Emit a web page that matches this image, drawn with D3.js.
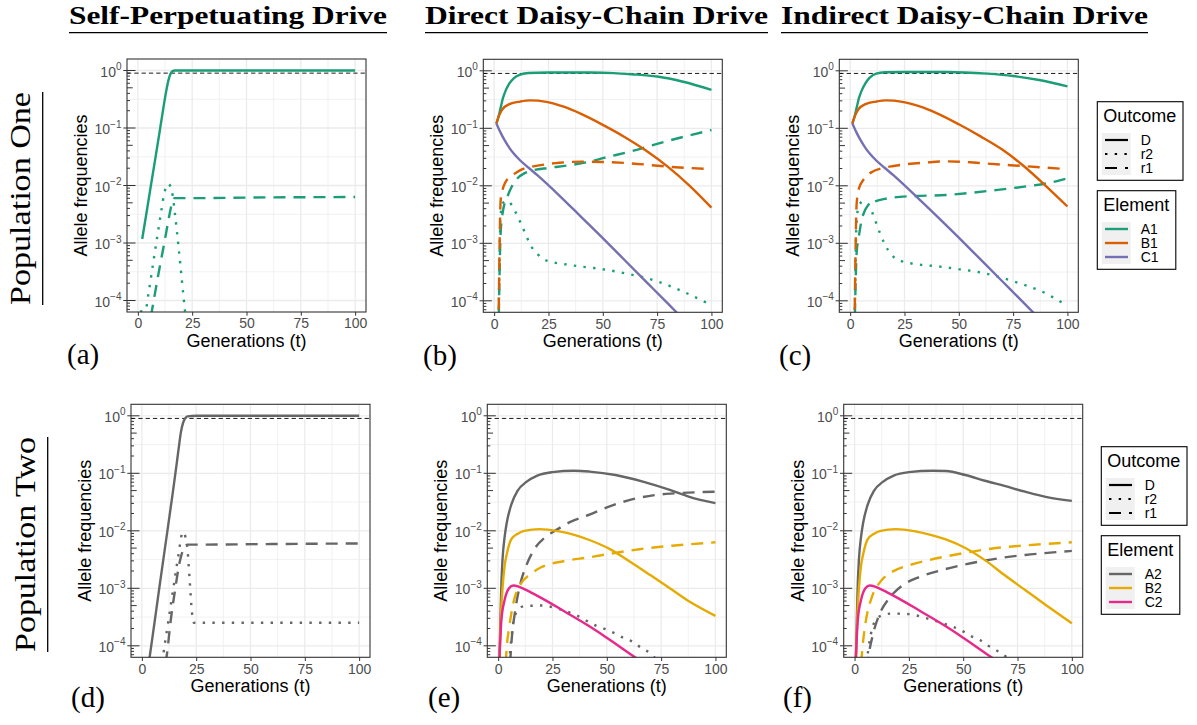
<!DOCTYPE html>
<html>
<head>
<meta charset="utf-8">
<script src="https://cdn.jsdelivr.net/npm/d3@7"></script>
<style>
  body { margin: 0; background: #fff; }
  svg { display: block; }
</style>
</head>
<body>
<div id="chart"></div>
<script>
// every series: [generation, log10(allele frequency)]

// (a) self-perpetuating, population one
const selfOneA1D = [[2,-2.93],[4,-2.47],[6,-2.0],[8,-1.54],[10,-1.07],[12,-0.59],[13,-0.37],[14,-0.18],[15,-0.06],[16,-0.01],[17,0],[25,0],[50,0],[75,0],[100,0]];
const selfOneA1r2 = [[1,-4.19],[3.5,-4.17],[5,-3.85],[7,-3.36],[9,-2.87],[11,-2.39],[12,-2.16],[13,-2.03],[14,-1.97],[15,-2.02],[16,-2.17],[17,-2.47],[19,-3.17],[21,-3.93],[22,-4.3]];
const selfOneA1r1 = [[6,-4.28],[8,-3.85],[10,-3.43],[12,-3.03],[14,-2.62],[15,-2.42],[16,-2.27],[17,-2.22],[25,-2.22],[50,-2.21],[100,-2.2]];

// (b) direct daisy-chain, population one
const dirOneA1D = [[1,-0.92],[2,-0.8],[3,-0.64],[4,-0.48],[5,-0.37],[7,-0.22],[9,-0.13],[12,-0.065],[16,-0.037],[25,-0.03],[44,-0.03],[55,-0.04],[63,-0.06],[75,-0.1],[87,-0.19],[100,-0.33]];
const dirOneB1D = [[1,-0.92],[2,-0.8],[3,-0.72],[4,-0.66],[7,-0.58],[12,-0.535],[16.5,-0.515],[24,-0.54],[32,-0.625],[40,-0.75],[50,-0.94],[60,-1.15],[70,-1.39],[80,-1.67],[90,-2.0],[100,-2.38]];
const dirOneC1D = [[1,-0.915],[2,-1.0],[3,-1.08],[5,-1.22],[7,-1.34],[9,-1.44],[12,-1.56],[16,-1.69],[20,-1.82],[30,-2.17],[40,-2.54],[50,-2.91],[60,-3.29],[70,-3.67],[80,-4.05],[86,-4.28]];
const dirOneA1r2 = [[2,-4.5],[3,-2.5],[4,-2.3],[6,-2.26],[8,-2.33],[10,-2.47],[12,-2.63],[14,-2.8],[17,-3.05],[20,-3.19],[23,-3.28],[27,-3.33],[32,-3.36],[41,-3.41],[46,-3.43],[60,-3.52],[75,-3.66],[87,-3.84],[98,-4.04],[100,-4.08]];
const dirOneA1r1 = [[2,-4.6],[3,-2.8],[4,-2.45],[6,-2.2],[8,-2.02],[11,-1.86],[14,-1.78],[18,-1.73],[25,-1.69],[35,-1.64],[45,-1.57],[50,-1.52],[63,-1.4],[75,-1.27],[87,-1.15],[100,-1.03]];
const dirOneB1r1 = [[2,-4.5],[3,-2.25],[4,-2.05],[5,-1.95],[7,-1.85],[9,-1.8],[13,-1.71],[20,-1.65],[30,-1.6],[40,-1.58],[50,-1.585],[63,-1.61],[81,-1.67],[100,-1.71]];

// (c) indirect daisy-chain, population one
const indOneA1D = [[1,-0.92],[2,-0.8],[3,-0.64],[4,-0.48],[5,-0.37],[7,-0.22],[9,-0.12],[12,-0.05],[16,-0.025],[25,-0.02],[44,-0.02],[63,-0.05],[75,-0.09],[87,-0.16],[100,-0.27]];
const indOneB1D = [[1,-0.92],[2,-0.8],[3,-0.72],[4,-0.66],[7,-0.58],[12,-0.535],[16.5,-0.515],[24,-0.54],[32,-0.62],[40,-0.74],[50,-0.93],[60,-1.14],[70,-1.37],[80,-1.66],[90,-2.0],[100,-2.36]];
const indOneC1D = [[1,-0.915],[2,-1.0],[3,-1.08],[5,-1.22],[7,-1.34],[9,-1.44],[12,-1.56],[16,-1.69],[20,-1.82],[30,-2.17],[40,-2.53],[50,-2.9],[60,-3.28],[70,-3.66],[80,-4.04],[86,-4.27]];
const indOneA1r2 = [[2,-4.5],[3,-2.6],[4,-2.35],[6,-2.27],[8,-2.3],[10,-2.45],[12,-2.65],[14,-2.85],[16,-3.02],[19,-3.2],[23,-3.3],[30,-3.36],[40,-3.4],[50,-3.45],[59,-3.5],[75,-3.66],[90,-3.87],[98,-4.04],[100,-4.08]];
const indOneA1r1 = [[2,-4.6],[3,-3.15],[4,-2.88],[5,-2.65],[6,-2.5],[8,-2.35],[11,-2.28],[17,-2.22],[28,-2.18],[44,-2.16],[56,-2.12],[68,-2.07],[81,-2.01],[90,-1.96],[100,-1.87]];
const indOneB1r1 = [[2,-4.5],[3,-2.3],[4,-2.05],[6,-1.9],[10,-1.76],[15,-1.69],[20,-1.655],[35,-1.595],[44,-1.575],[55,-1.59],[62,-1.61],[81,-1.66],[100,-1.71]];

// (d) self-perpetuating, population two
const selfTwoA2D = [[3,-4.35],[5,-3.82],[8,-3.0],[11,-2.2],[14,-1.4],[16,-0.84],[17,-0.55],[18,-0.28],[19,-0.12],[20,-0.04],[21,-0.01],[25,0],[50,0],[100,0]];
const selfTwoA2r2 = [[9,-4.45],[10,-4.12],[12,-3.62],[14,-3.12],[16,-2.62],[17,-2.38],[18,-2.13],[18.5,-2.04],[19,-2.02],[20,-2.1],[21,-2.33],[22,-2.85],[23,-3.4],[23.5,-3.55],[24,-3.6],[30,-3.6],[100,-3.6]];
const selfTwoA2r1 = [[11,-4.3],[12,-4.0],[13,-3.65],[14,-3.35],[15,-3.1],[16,-2.85],[17,-2.62],[18,-2.45],[19,-2.33],[20,-2.26],[21,-2.24],[25,-2.24],[60,-2.23],[100,-2.22]];

// (e) direct daisy-chain, population two
const dirTwoA2D = [[0.5,-4.4],[1,-3.6],[1.5,-2.9],[2,-2.5],[3,-2.1],[4,-1.85],[6,-1.55],[9,-1.3],[13,-1.15],[18,-1.04],[25,-0.98],[35,-0.955],[42,-0.97],[54,-1.03],[67,-1.15],[79,-1.29],[88,-1.41],[100,-1.52]];
const dirTwoB2D = [[0.5,-4.4],[1,-3.8],[1.5,-3.3],[2,-3.0],[3,-2.6],[4,-2.4],[6,-2.15],[9,-2.05],[12,-2.0],[19,-1.97],[28,-2.01],[35,-2.07],[42,-2.16],[51,-2.31],[60,-2.52],[70,-2.77],[79,-3.0],[88,-3.23],[100,-3.48]];
const dirTwoC2D = [[0.5,-4.3],[1.5,-3.55],[3,-3.2],[5,-3.0],[7,-2.95],[10,-2.98],[15,-3.07],[20,-3.17],[30,-3.39],[42,-3.66],[50,-3.86],[63,-4.2],[65,-4.25]];
const dirTwoA2r2 = [[5,-4.3],[7,-3.6],[9,-3.38],[12,-3.31],[20,-3.3],[28,-3.36],[36,-3.47],[45,-3.65],[50,-3.72],[54,-3.79],[58,-3.87],[62,-3.93],[66,-4.04],[70,-4.13],[73,-4.25]];
const dirTwoA2r1 = [[5.5,-4.3],[6,-4.0],[8,-3.35],[10,-2.95],[13,-2.6],[17,-2.3],[22,-2.1],[27,-1.98],[33,-1.85],[42,-1.72],[51,-1.58],[62,-1.45],[72,-1.38],[81,-1.35],[100,-1.32]];
const dirTwoB2r1 = [[3.5,-4.3],[4,-4.0],[5,-3.7],[7,-3.25],[10,-2.95],[15,-2.75],[20,-2.63],[30,-2.53],[42,-2.46],[53,-2.39],[65,-2.32],[80,-2.26],[100,-2.2]];

// (f) indirect daisy-chain, population two
const indTwoA2D = [[0.5,-4.4],[1,-3.6],[1.5,-2.9],[2,-2.5],[3,-2.1],[4,-1.85],[6,-1.55],[9,-1.3],[13,-1.15],[18,-1.04],[25,-0.98],[36,-0.955],[42,-0.96],[51,-1.03],[60,-1.13],[69,-1.22],[78.5,-1.32],[88,-1.41],[100,-1.48]];
const indTwoB2D = [[0.5,-4.4],[1,-3.8],[1.5,-3.3],[2,-3.0],[3,-2.6],[4,-2.4],[6,-2.15],[9,-2.05],[12,-2.0],[19,-1.97],[28,-2.01],[35,-2.07],[42,-2.15],[51,-2.3],[60,-2.51],[69,-2.77],[78.5,-3.03],[88,-3.29],[100,-3.61]];
const indTwoC2D = [[0.5,-4.3],[1.5,-3.55],[3,-3.2],[5,-3.0],[7,-2.95],[10,-2.98],[15,-3.07],[20,-3.17],[30,-3.39],[42,-3.66],[50,-3.86],[63,-4.2],[65,-4.25]];
const indTwoA2r2 = [[5.5,-4.3],[7,-3.9],[9,-3.6],[12,-3.48],[17,-3.44],[25,-3.45],[33,-3.52],[41.5,-3.62],[49,-3.73],[53.5,-3.83],[57.7,-3.9],[61.6,-4.0],[65.4,-4.08],[70,-4.2],[72,-4.28]];
const indTwoA2r1 = [[6,-4.4],[6.5,-4.2],[8.5,-3.8],[11.5,-3.45],[16,-3.17],[22,-2.95],[30,-2.8],[41.5,-2.67],[54,-2.56],[66,-2.48],[78.5,-2.42],[90,-2.38],[100,-2.35]];
const indTwoB2r1 = [[3,-4.3],[4,-3.9],[5.5,-3.5],[8,-3.15],[12,-2.88],[17,-2.72],[25,-2.6],[33,-2.52],[41.5,-2.45],[53,-2.37],[65,-2.3],[80,-2.25],[100,-2.2]];

const timeTicks = [0, 25, 50, 75, 100];
const decadeTicks = [0, -1, -2, -3, -4];
const driveLevel = 0.9;
const columnTitles = ["Self-Perpetuating Drive", "Direct Daisy-Chain Drive", "Indirect Daisy-Chain Drive"];
const rowTitles = ["Population One", "Population Two"];
const panelLabels = ["(a)", "(b)", "(c)", "(d)", "(e)", "(f)"];
const outcomes = ["D", "r2", "r1"];
const elementsOne = ["A1", "B1", "C1"];
const elementsTwo = ["A2", "B2", "C2"];
const colorsOne = ["#1B9E77", "#D95F02", "#7570B3"];
const colorsTwo = ["#666666", "#E6AB02", "#E7298A"];

const W = 239, H = 253;
const sans = "'Liberation Sans', Arial, sans-serif";
const serif = "'Liberation Serif', 'Times New Roman', serif";
const dashes = { D: null, r2: "2.4,7.3", r1: "12,8" };

const panels = [
  { x: 127,   y: 59,    lx: 67,  ly: 364, series: [
      [selfOneA1r2, colorsOne[0], "r2"], [selfOneA1r1, colorsOne[0], "r1"], [selfOneA1D, colorsOne[0], "D"]] },
  { x: 483.3, y: 59.3,  lx: 423, ly: 365, series: [
      [dirOneA1r2, colorsOne[0], "r2"], [dirOneA1r1, colorsOne[0], "r1"], [dirOneB1r1, colorsOne[1], "r1"],
      [dirOneA1D, colorsOne[0], "D"], [dirOneB1D, colorsOne[1], "D"], [dirOneC1D, colorsOne[2], "D"]] },
  { x: 839.3, y: 59.3,  lx: 779, ly: 365, series: [
      [indOneA1r2, colorsOne[0], "r2"], [indOneA1r1, colorsOne[0], "r1"], [indOneB1r1, colorsOne[1], "r1"],
      [indOneA1D, colorsOne[0], "D"], [indOneB1D, colorsOne[1], "D"], [indOneC1D, colorsOne[2], "D"]] },
  { x: 131,   y: 404.3, lx: 71,  ly: 707, series: [
      [selfTwoA2r2, colorsTwo[0], "r2"], [selfTwoA2r1, colorsTwo[0], "r1"], [selfTwoA2D, colorsTwo[0], "D"]] },
  { x: 487.3, y: 404.3, lx: 428, ly: 707, series: [
      [dirTwoA2r2, colorsTwo[0], "r2"], [dirTwoA2r1, colorsTwo[0], "r1"], [dirTwoB2r1, colorsTwo[1], "r1"],
      [dirTwoA2D, colorsTwo[0], "D"], [dirTwoB2D, colorsTwo[1], "D"], [dirTwoC2D, colorsTwo[2], "D"]] },
  { x: 843.7, y: 404.3, lx: 783, ly: 707, series: [
      [indTwoA2r2, colorsTwo[0], "r2"], [indTwoA2r1, colorsTwo[0], "r1"], [indTwoB2r1, colorsTwo[1], "r1"],
      [indTwoA2D, colorsTwo[0], "D"], [indTwoB2D, colorsTwo[1], "D"], [indTwoC2D, colorsTwo[2], "D"]] }
];

const svg = d3.select("#chart").append("svg")
  .attr("width", 1197).attr("height", 725)
  .style("background", "#fff");

panels.forEach((p, i) => {
  const x = d3.scaleLinear().domain([-5, 105]).range([p.x, p.x + W]);
  const y = d3.scaleLog().domain([Math.pow(10, -4.2), Math.pow(10, 0.2)]).range([p.y + H, p.y]);
  const g = svg.append("g");

  g.append("clipPath").attr("id", "clip" + i)
    .append("rect").attr("x", p.x).attr("y", p.y).attr("width", W).attr("height", H);

  // grid
  const xMinor = timeTicks.slice(0, -1).map(t => t + 12.5);
  const yMinor = decadeTicks.slice(0, -1).map(k => k - 0.5);
  g.selectAll(".vminor").data(xMinor).enter().append("line")
    .attr("x1", d => x(d)).attr("x2", d => x(d)).attr("y1", p.y).attr("y2", p.y + H)
    .attr("stroke", "#ebebeb").attr("stroke-width", 0.7);
  g.selectAll(".hminor").data(yMinor).enter().append("line")
    .attr("x1", p.x).attr("x2", p.x + W).attr("y1", d => y(Math.pow(10, d))).attr("y2", d => y(Math.pow(10, d)))
    .attr("stroke", "#ebebeb").attr("stroke-width", 0.7);
  g.selectAll(".vmajor").data(timeTicks).enter().append("line")
    .attr("x1", d => x(d)).attr("x2", d => x(d)).attr("y1", p.y).attr("y2", p.y + H)
    .attr("stroke", "#ebebeb").attr("stroke-width", 1.3);
  g.selectAll(".hmajor").data(decadeTicks).enter().append("line")
    .attr("x1", p.x).attr("x2", p.x + W).attr("y1", d => y(Math.pow(10, d))).attr("y2", d => y(Math.pow(10, d)))
    .attr("stroke", "#ebebeb").attr("stroke-width", 1.3);

  // 0.9 threshold
  g.append("line")
    .attr("x1", p.x).attr("x2", p.x + W).attr("y1", y(driveLevel)).attr("y2", y(driveLevel))
    .attr("stroke", "#000").attr("stroke-width", 0.9).attr("stroke-dasharray", "4.3,3");

  // data
  const line = d3.line()
    .x(d => x(d[0]))
    .y(d => y(Math.pow(10, d[1])))
    .curve(d3.curveMonotoneX);
  const lines = g.append("g").attr("clip-path", `url(#clip${i})`);
  p.series.forEach(([data, color, kind]) => {
    lines.append("path")
      .attr("d", line(data))
      .attr("fill", "none")
      .attr("stroke", color)
      .attr("stroke-width", 2.4)
      .attr("stroke-dasharray", dashes[kind]);
  });

  // log ticks inside left edge
  const logTicks = [];
  for (let k = -5; k <= 0; k++) {
    for (let m = 1; m <= 9; m++) {
      const v = m * Math.pow(10, k);
      if (v >= Math.pow(10, -4.2) && v <= Math.pow(10, 0.2)) logTicks.push({ v, m });
    }
  }
  g.selectAll(".logtick").data(logTicks).enter().append("line")
    .attr("x1", p.x).attr("x2", d => p.x + (d.m === 1 ? 8.5 : d.m === 5 ? 5.7 : 3))
    .attr("y1", d => y(d.v)).attr("y2", d => y(d.v))
    .attr("stroke", "#000").attr("stroke-width", 0.8);

  // border
  g.append("rect").attr("x", p.x).attr("y", p.y).attr("width", W).attr("height", H)
    .attr("fill", "none").attr("stroke", "#333").attr("stroke-width", 1.1);

  // x axis
  const xAxis = g.append("g").attr("transform", `translate(0,${p.y + H})`)
    .call(d3.axisBottom(x).tickValues(timeTicks).tickSize(3.7).tickPadding(2.6));
  xAxis.select(".domain").remove();
  xAxis.selectAll("line").attr("stroke", "#333").attr("stroke-width", 1);
  xAxis.selectAll("text").attr("fill", "#4d4d4d").style("font-family", sans).style("font-size", "14px");

  // y axis
  g.selectAll(".ytick").data(decadeTicks).enter().append("line")
    .attr("x1", p.x - 3.7).attr("x2", p.x)
    .attr("y1", d => y(Math.pow(10, d))).attr("y2", d => y(Math.pow(10, d)))
    .attr("stroke", "#333").attr("stroke-width", 1);
  decadeTicks.forEach(k => {
    const t = g.append("text")
      .attr("x", p.x - 5.5).attr("y", y(Math.pow(10, k)) + 6)
      .attr("text-anchor", "end").attr("fill", "#4d4d4d")
      .style("font-family", sans).style("font-size", "14px");
    t.append("tspan").text("10");
    t.append("tspan").attr("dy", -6.5).style("font-size", "10px").text(k === 0 ? "0" : "\u2212" + (-k));
  });

  // axis titles
  g.append("text")
    .attr("x", p.x + W / 2).attr("y", p.y + H + 34.7)
    .attr("text-anchor", "middle")
    .style("font-family", sans).style("font-size", "18px")
    .text("Generations (t)");
  g.append("text")
    .attr("transform", `translate(${p.x - 40},${p.y + H / 2}) rotate(-90)`)
    .attr("text-anchor", "middle")
    .style("font-family", sans).style("font-size", "18px")
    .text("Allele frequencies");

  // panel letter
  g.append("text")
    .attr("x", p.lx).attr("y", p.ly)
    .style("font-family", serif).style("font-size", "29px")
    .text(panelLabels[i]);
});

// column titles
const colSpans = [[69, 387], [425, 768], [781, 1148]];
columnTitles.forEach((t, i) => {
  const [a, b] = colSpans[i];
  svg.append("text")
    .attr("x", a).attr("y", 24)
    .attr("textLength", b - a).attr("lengthAdjust", "spacingAndGlyphs")
    .style("font-family", serif).style("font-weight", "bold").style("font-size", "25px")
    .text(t);
  svg.append("line").attr("x1", a).attr("x2", b).attr("y1", 32.7).attr("y2", 32.7)
    .attr("stroke", "#000").attr("stroke-width", 1.3);
});

// row titles
const rowSpans = [{ y0: 92, y1: 305, base: 30, rule: 42.7 }, { y0: 437, y1: 652, base: 35, rule: 47.7 }];
rowTitles.forEach((t, i) => {
  const r = rowSpans[i];
  svg.append("text")
    .attr("transform", `translate(${r.base},${r.y1}) rotate(-90)`)
    .attr("textLength", r.y1 - r.y0).attr("lengthAdjust", "spacingAndGlyphs")
    .style("font-family", serif).style("font-size", "29px")
    .text(t);
  svg.append("line").attr("x1", r.rule).attr("x2", r.rule).attr("y1", r.y0).attr("y2", r.y1)
    .attr("stroke", "#000").attr("stroke-width", 1.3);
});

// legends
function legendBox(bx, by, w, title, labels, styleOf) {
  const g = svg.append("g");
  g.append("rect").attr("x", bx).attr("y", by).attr("width", w).attr("height", 78.6)
    .attr("fill", "#fff").attr("stroke", "#000").attr("stroke-width", 1.1);
  g.append("text").attr("x", bx + 6).attr("y", by + 20)
    .style("font-family", sans).style("font-size", "18px").text(title);
  g.append("rect").attr("x", bx + 4.4).attr("y", by + 31.3).attr("width", 29).attr("height", 42)
    .attr("fill", "#f0f0f0");
  labels.forEach((lab, j) => {
    const cy = by + 38.3 + j * 14;
    const s = styleOf(j);
    g.append("line").attr("x1", bx + 7.7).attr("x2", bx + 30.7).attr("y1", cy).attr("y2", cy)
      .attr("stroke", s.color).attr("stroke-width", s.width).attr("stroke-dasharray", s.dash);
    g.append("text").attr("x", bx + 43.4).attr("y", cy + 5)
      .style("font-family", sans).style("font-size", "14px").text(lab);
  });
}

const legendRows = [
  { x: 1097.3, y1: 101.7, y2: 190.7, elements: elementsOne, colors: colorsOne },
  { x: 1101.3, y1: 446.7, y2: 535.7, elements: elementsTwo, colors: colorsTwo }
];
legendRows.forEach(r => {
  legendBox(r.x, r.y1, 85.7, "Outcome", outcomes,
    j => ({ color: "#000", width: 2.2, dash: dashes[outcomes[j]] }));
  legendBox(r.x, r.y2, 78.5, "Element", r.elements,
    j => ({ color: r.colors[j], width: 2.4, dash: null }));
});
</script>
</body>
</html>
